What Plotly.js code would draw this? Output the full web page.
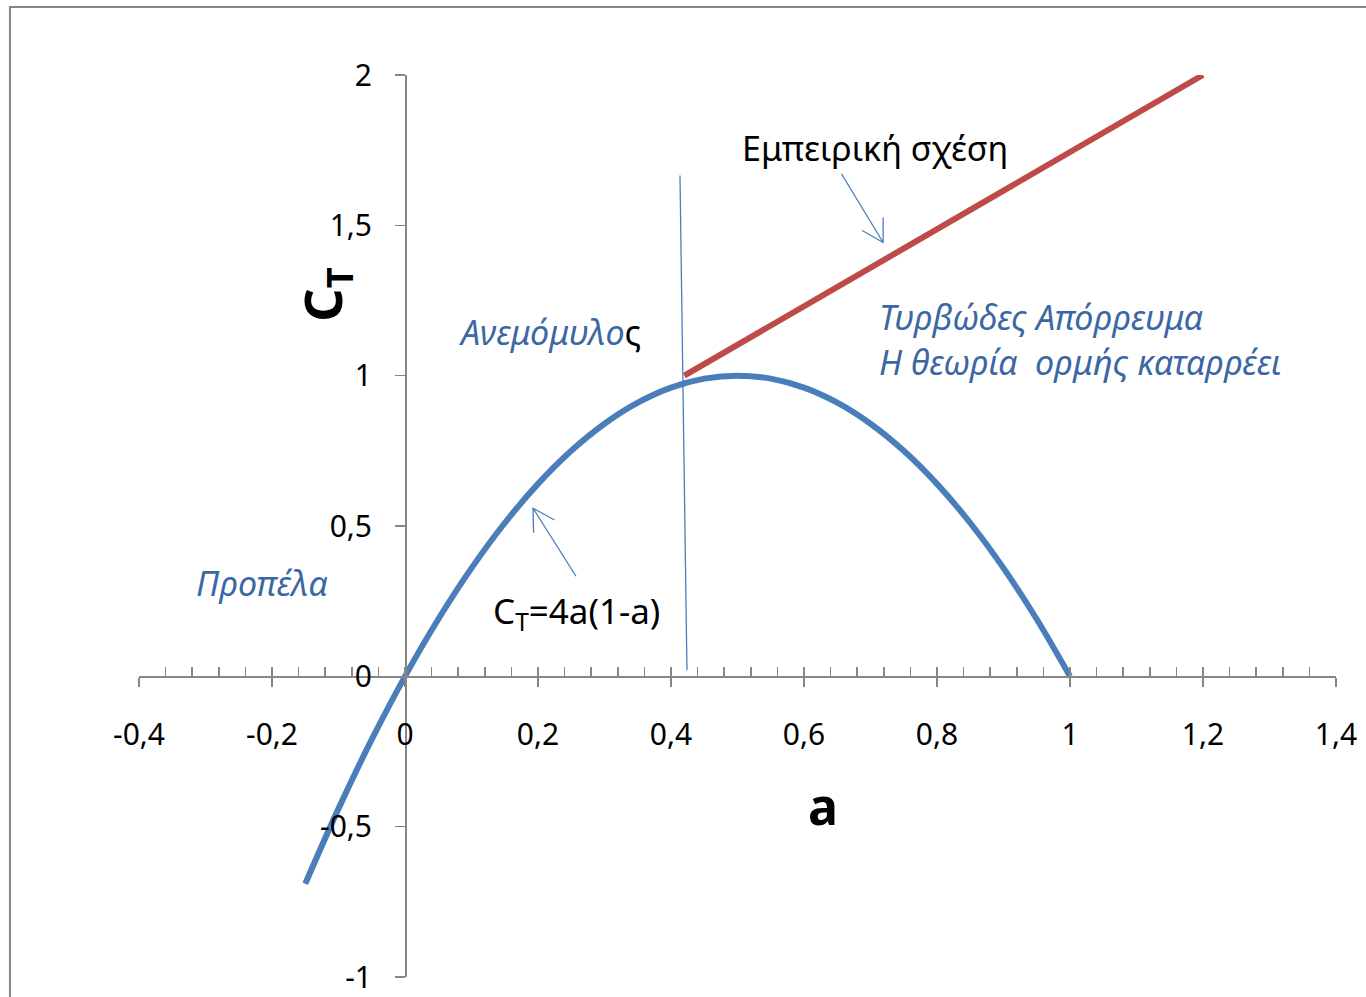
<!DOCTYPE html>
<html>
<head>
<meta charset="utf-8">
<script src="https://cdn.plot.ly/plotly-3.0.1.min.js"></script>
<style>
  html, body { margin: 0; padding: 0; background: #ffffff; }
  #chart { width: 1366px; height: 997px; }
</style>
</head>
<body>
<div id="chart"></div>
<script>
// Momentum theory thrust coefficient C_T = 4a(1-a) versus induction factor a
const aMomentum  = [-0.15, -0.10, -0.05, 0.00, 0.05, 0.10, 0.15, 0.20, 0.25, 0.30, 0.35, 0.40,
                    0.45, 0.50, 0.55, 0.60, 0.65, 0.70, 0.75, 0.80, 0.85, 0.90, 0.95, 1.00];
const ctMomentum = [-0.69, -0.44, -0.21, 0.00, 0.19, 0.36, 0.51, 0.64, 0.75, 0.84, 0.91, 0.96,
                    0.99, 1.00, 0.99, 0.96, 0.91, 0.84, 0.75, 0.64, 0.51, 0.36, 0.19, 0.00];

// Empirical (turbulent wake) relation, straight line
const aEmpirical  = [0.42, 1.20];
const ctEmpirical = [1.00, 2.00];

// Boundary between windmill state and turbulent wake state
const aBoundary  = [0.4135, 0.424];
const ctBoundary = [1.666, 0.02];

// Axis ticks
const xTickVals = [-0.4, -0.2, 0, 0.2, 0.4, 0.6, 0.8, 1, 1.2, 1.4];
const xTickText = ['-0,4', '-0,2', '0', '0,2', '0,4', '0,6', '0,8', '1', '1,2', '1,4'];
const yTickVals = [-1, -0.5, 0, 0.5, 1, 1.5, 2];
const yTickText = ['-1', '-0,5', '0', '0,5', '1', '1,5', '2'];

const FONT = 'Noto Sans, Open Sans, DejaVu Sans, sans-serif';
const AXIS_GREY = '#868686';
const NOTE_BLUE = '#3b67a4';
const ARROW_BLUE = '#4a7ebb';

const xRange = [-0.4, 1.4];
const yRange = [-1, 2];
// axes cross at the origin
const xAxisPos = (0 - yRange[0]) / (yRange[1] - yRange[0]);
const yAxisPos = (0 - xRange[0]) / (xRange[1] - xRange[0]);

// open-headed pointer arrow: tip anchored in data space, tail and barbs as pixel offsets
function pointer(tipX, tipY, tail, barbA, barbB) {
  return {
    type: 'path', xref: 'x', yref: 'y',
    xsizemode: 'pixel', ysizemode: 'pixel', xanchor: tipX, yanchor: tipY,
    path: `M${tail[0]},${tail[1]} L0,0 M${barbA[0]},${barbA[1]} L0,0 L${barbB[0]},${barbB[1]}`,
    line: { color: ARROW_BLUE, width: 1.3 }, layer: 'above'
  };
}

const traces = [
  {
    x: aMomentum, y: ctMomentum, type: 'scatter', mode: 'lines',
    line: { color: '#4a7ebb', width: 6, shape: 'spline' },
    hoverinfo: 'x+y', showlegend: false
  },
  {
    x: aEmpirical, y: ctEmpirical, type: 'scatter', mode: 'lines',
    line: { color: '#be4b48', width: 6 },
    hoverinfo: 'x+y', showlegend: false
  },
  {
    x: aBoundary, y: ctBoundary, type: 'scatter', mode: 'lines',
    line: { color: '#4a7ebb', width: 1.3 },
    hoverinfo: 'skip', showlegend: false
  },
  // carries the overlay axis that draws the upper tick halves
  {
    x: xRange, y: [0, 0], xaxis: 'x2', yaxis: 'y', type: 'scatter', mode: 'lines',
    line: { width: 0, color: 'rgba(0,0,0,0)' }, hoverinfo: 'skip', showlegend: false
  }
];

const layout = {
  width: 1366, height: 997,
  margin: { l: 139, r: 30, t: 75, b: 20 },
  paper_bgcolor: '#ffffff', plot_bgcolor: 'rgba(0,0,0,0)',
  font: { family: FONT, color: '#000000' },
  showlegend: false,
  xaxis: {
    range: xRange, anchor: 'free', position: xAxisPos,
    showgrid: false, zeroline: false,
    showline: true, linecolor: AXIS_GREY, linewidth: 1.5,
    tickmode: 'array', tickvals: xTickVals, ticktext: xTickText,
    ticks: 'outside', ticklen: 9, tickwidth: 1.5, tickcolor: AXIS_GREY,
    ticklabelstandoff: 22,
    tickfont: { family: FONT, size: 30, color: '#000000' }
  },
  // upper half of the crossing tick marks, major and minor
  xaxis2: {
    range: xRange, overlaying: 'x', anchor: 'free', position: xAxisPos,
    showgrid: false, zeroline: false, showline: false,
    tickmode: 'linear', tick0: -0.4, dtick: 0.04,
    ticks: 'inside', ticklen: 9, tickwidth: 1.5, tickcolor: AXIS_GREY,
    showticklabels: false
  },
  yaxis: {
    range: yRange, anchor: 'free', position: yAxisPos,
    showgrid: false, zeroline: false,
    showline: true, linecolor: AXIS_GREY, linewidth: 1.5,
    tickmode: 'array', tickvals: yTickVals, ticktext: yTickText,
    ticks: 'outside', ticklen: 10, tickwidth: 1.5, tickcolor: AXIS_GREY,
    ticklabelstandoff: 17,
    tickfont: { family: FONT, size: 30, color: '#000000' }
  },
  shapes: [
    {
      type: 'rect', xref: 'paper', yref: 'paper',
      x0: -0.1078, x1: 1.2, y0: -0.2, y1: 1.0754,
      line: { color: AXIS_GREY, width: 2 }, fillcolor: 'rgba(0,0,0,0)', layer: 'below'
    },
    pointer(0.719, 1.443, [-41.7, 68.7], [-21, 12], [0, 25]),
    pointer(0.1925, 0.559, [43, -68], [21.6, -11.7], [0.6, -24.4])
  ],
  annotations: [
    { x: 0.628, y: -0.43, xref: 'x', yref: 'y', showarrow: false,
      text: '<b>a</b>', font: { family: FONT, size: 50, color: '#000000' } },
    { x: -0.12, y: 1.27, xref: 'x', yref: 'y', showarrow: false, textangle: -90,
      text: '<b>C<sub>T</sub></b>', font: { family: FONT, size: 52, color: '#000000' } },
    { x: 0.707, y: 1.756, xref: 'x', yref: 'y', showarrow: false,
      text: 'Εμπειρική σχέση', font: { family: FONT, size: 34, color: '#000000' } },
    { x: 0.71, y: 1.196, xref: 'x', yref: 'y', showarrow: false, xanchor: 'left',
      text: '<i>Τυρβώδες Απόρρευμα</i>', font: { family: FONT, size: 34, color: NOTE_BLUE } },
    { x: 0.71, y: 1.045, xref: 'x', yref: 'y', showarrow: false, xanchor: 'left',
      text: '<i>Η θεωρία  ορμής καταρρέει</i>', font: { family: FONT, size: 34, color: NOTE_BLUE } },
    { x: 0.078, y: 1.145, xref: 'x', yref: 'y', showarrow: false, xanchor: 'left',
      text: '<i>Ανεμόμυλο</i><span style="color:#000000">ς</span>',
      font: { family: FONT, size: 34, color: NOTE_BLUE } },
    { x: -0.317, y: 0.31, xref: 'x', yref: 'y', showarrow: false, xanchor: 'left',
      text: '<i>Προπέλα</i>', font: { family: FONT, size: 34, color: NOTE_BLUE } },
    { x: 0.13, y: 0.213, xref: 'x', yref: 'y', showarrow: false, xanchor: 'left',
      text: 'C<sub>T</sub>=4a(1-a)', font: { family: FONT, size: 35, color: '#000000' } }
  ]
};

Plotly.newPlot('chart', traces, layout, { staticPlot: true, displayModeBar: false });
</script>
</body>
</html>
